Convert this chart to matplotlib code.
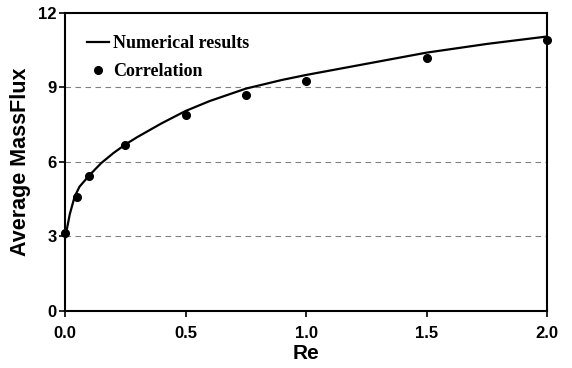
import numpy as np
import matplotlib.pyplot as plt

#---------------------------------------------------------- data
re_num   = [0.0, 0.01, 0.02, 0.04, 0.06, 0.1, 0.15, 0.2, 0.25, 0.3, 0.4, 0.5,
            0.6, 0.75, 0.9, 1.0, 1.25, 1.5, 1.75, 2.0]
flux_num = [2.9, 3.4, 3.9, 4.6, 5.0, 5.45, 5.95, 6.35, 6.7, 7.0, 7.55, 8.05,
            8.45, 8.95, 9.3, 9.5, 9.95, 10.4, 10.75, 11.05]

re_cor   = [0.0, 0.05, 0.1, 0.25, 0.5, 0.75, 1.0, 1.5, 2.0]
flux_cor = [3.15, 4.6, 5.42, 6.7, 7.9, 8.7, 9.27, 10.2, 10.92]

x_ticks  = [0.0, 0.5, 1.0, 1.5, 2.0]
y_ticks  = [0, 3, 6, 9, 12]

#---------------------------------------------------------- plotting
fig = plt.figure(figsize=(5.72, 3.68), dpi=100)
ax = fig.add_axes([0.1136, 0.155, 0.843, 0.81])

for yy in y_ticks[1:-1]:
    ax.axhline(yy, color="gray", lw=0.8, ls=(0, (5, 4)), zorder=1)

ax.plot(re_num, flux_num, c="black", lw=1.6, label="Numerical results", zorder=3)
ax.plot(re_cor, flux_cor, "o", c="black", ms=5.5, label="Correlation",
        zorder=4, clip_on=False)

ax.set_xlim(0, 2)
ax.set_ylim(0, 12)
ax.set_xticks(x_ticks)
ax.set_xticklabels(["{:.1f}".format(v) for v in x_ticks])
ax.set_yticks(y_ticks)

for s in ax.spines.values():
    s.set_linewidth(1.5)
ax.tick_params(direction="out", length=4, width=1.2, labelsize=12)
ax.tick_params(axis="x", pad=7)
ax.tick_params(axis="y", pad=2)
for lab in ax.get_xticklabels() + ax.get_yticklabels():
    lab.set_fontweight("bold")
    lab.set_fontfamily("Liberation Sans")

ax.set_xlabel("Re", fontsize=15, fontweight="bold", family="Liberation Sans", labelpad=2)
ax.set_ylabel("Average MassFlux", fontsize=15.5, fontweight="bold", family="Liberation Sans", labelpad=5)

leg = ax.legend(loc="upper left", bbox_to_anchor=(0.012, 0.98), frameon=False,
                handlelength=1.2, handletextpad=0.25, labelspacing=0.62,
                prop={"family": "Liberation Serif", "weight": "bold", "size": 13})

fig.savefig("out.png", dpi=100)
